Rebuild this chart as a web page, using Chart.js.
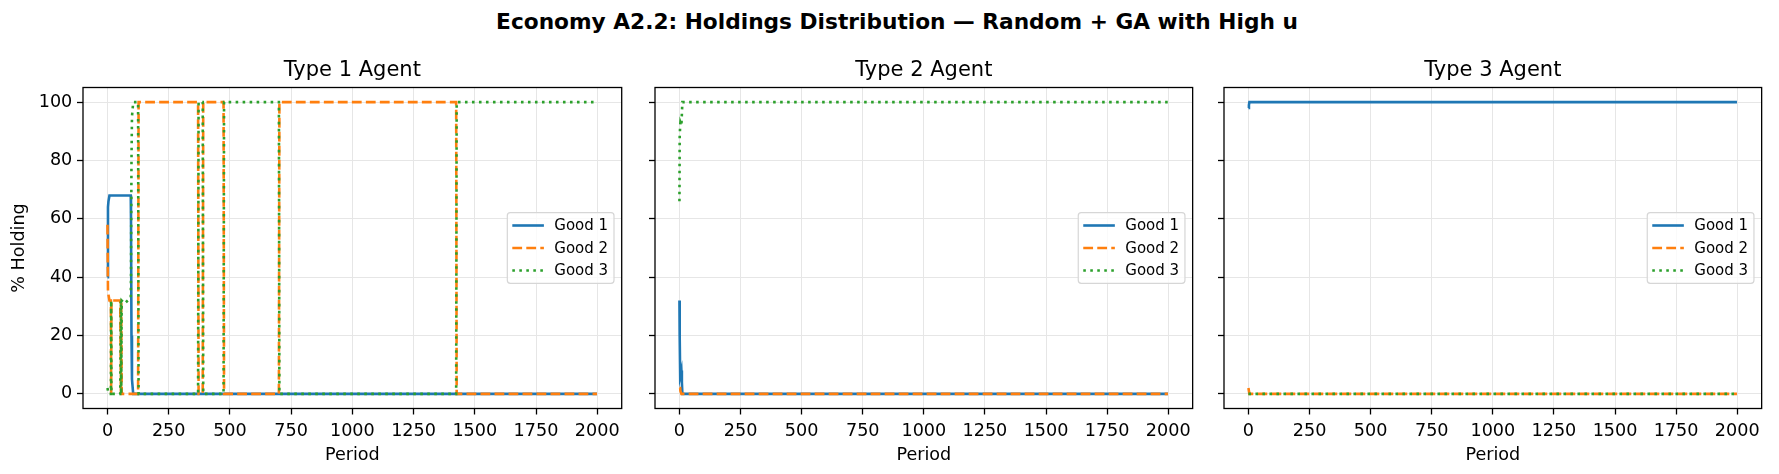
<!DOCTYPE html>
<html lang="en">
<head>
<meta charset="UTF-8">
<title>Economy A2.2: Holdings Distribution</title>
<script src="https://cdn.jsdelivr.net/npm/chart.js"></script>
<style>
    html, body { margin: 0; padding: 0; background: #fff; }
    #fig { position: relative; width: 1779px; height: 474px; overflow: hidden; background: #fff; font-family: "DejaVu Sans", sans-serif; }
    #suptitle { position: absolute; left: 0; top: 0; width: 1794px; height: 43px; line-height: 43px; text-align: center; font-weight: bold; font-size: 21.7px; color: #000; }
    .painel { position: absolute; top: 0; height: 474px; }
</style>
</head>
<body>
<div id="fig">
    <div id="suptitle">Economy A2.2: Holdings Distribution — Random + GA with High u</div>
    <canvas id="type1Chart" class="painel" width="626" height="474" style="left:0px;width:626px"></canvas>
    <canvas id="type2Chart" class="painel" width="567" height="474" style="left:630px;width:567px"></canvas>
    <canvas id="type3Chart" class="painel" width="567" height="474" style="left:1199px;width:567px"></canvas>
</div>

<script>
    // eixos
    const goods = ['Good 1', 'Good 2', 'Good 3'];
    const titulos = ['Type 1 Agent', 'Type 2 Agent', 'Type 3 Agent'];
    const xTicks = [0, 250, 500, 750, 1000, 1250, 1500, 1750, 2000];
    const yTicks = [0, 20, 40, 60, 80, 100];

    // Type 1 agent (% holding each good)
    const type1Period = [0, 2, 4, 8, 14, 15, 16, 52, 55, 56, 58, 70, 95, 96, 98, 100, 105, 125, 127, 370, 372, 389, 391, 474, 476, 700, 702, 1424, 1426, 1999];
    const type1Good1 = [40, 64, 66, 68, 68, 68, 68, 68, 68, 68, 68, 68, 68, 60, 20, 5, 0, 0, 0, 0, 0, 0, 0, 0, 0, 0, 0, 0, 0, 0];
    const type1Good2 = [58, 35, 34, 32, 32, 0, 32, 32, 0, 32, 0, 0, 0, 0, 0, 0, 0, 0, 100, 100, 0, 0, 100, 100, 0, 0, 100, 100, 0, 0];
    const type1Good3 = [2, 1, 0, 0, 0, 32, 0, 0, 32, 0, 32, 31, 33, 40, 80, 95, 100, 100, 0, 0, 100, 100, 0, 0, 100, 100, 0, 0, 100, 100];

    // Type 2 agent
    const type2Period = [0, 1, 3, 4, 8, 10, 12, 15, 1999];
    const type2Good1 = [32, 20, 6, 6, 8, 4, 0, 0, 0];
    const type2Good2 = [2, 2, 2, 1, 0, 0, 0, 0, 0];
    const type2Good3 = [66, 88, 92, 93, 92, 96, 100, 100, 100];

    // Type 3 agent
    const type3Period = [0, 2, 4, 1999];
    const type3Good1 = [98, 99, 100, 100];
    const type3Good2 = [2, 1, 0, 0];
    const type3Good3 = [0, 0, 0, 0];

    const cores = ['#1f77b4', '#ff7f0e', '#2ca02c'];
    const tracos = [[], [9.8, 4.2], [2.6, 4.4]];

    Chart.defaults.font.family = "'DejaVu Sans', sans-serif";
    Chart.defaults.color = '#000';

    function pontos(periodos, valores) {
        return periodos.map((p, i) => ({ x: p, y: valores[i] }));
    }

    // moldura completa dos eixos (como no matplotlib)
    const moldura = {
        id: 'moldura',
        afterDatasetsDraw(chart) {
            const { ctx, chartArea } = chart;
            ctx.save();
            ctx.strokeStyle = '#000';
            ctx.lineWidth = 1.3;
            ctx.strokeRect(chartArea.left, chartArea.top, chartArea.right - chartArea.left, chartArea.bottom - chartArea.top);
            ctx.restore();
        }
    };

    // legenda dentro do gráfico, centro à direita
    const legendaInterna = {
        id: 'legendaInterna',
        afterDraw(chart) {
            const { ctx, chartArea } = chart;
            const w = 106.7, h = 70.7;
            const x0 = chartArea.right - 7.7 - w;
            const yc = (chartArea.top + chartArea.bottom) / 2;
            const y0 = yc - h / 2;
            ctx.save();
            ctx.beginPath();
            ctx.roundRect(x0, y0, w, h, 3);
            ctx.fillStyle = 'rgba(255,255,255,0.8)';
            ctx.fill();
            ctx.strokeStyle = '#d6d6d6';
            ctx.lineWidth = 1.2;
            ctx.stroke();
            chart.data.datasets.forEach((ds, i) => {
                const y = yc + (i - 1) * 22.5;
                ctx.beginPath();
                ctx.setLineDash(ds.borderDash || []);
                ctx.strokeStyle = ds.borderColor;
                ctx.lineWidth = ds.borderWidth;
                ctx.moveTo(x0 + 5, y);
                ctx.lineTo(x0 + 36.6, y);
                ctx.stroke();
                ctx.setLineDash([]);
                ctx.fillStyle = '#000';
                ctx.font = "15px 'DejaVu Sans'";
                ctx.textBaseline = 'middle';
                ctx.textAlign = 'left';
                ctx.fillText(ds.label, x0 + 47, y + 1);
            });
            ctx.restore();
        }
    };

    function criarPainel(canvasId, titulo, periodos, series, primeiro) {
        return new Chart(document.getElementById(canvasId), {
            type: 'line',
            data: {
                datasets: series.map((valores, i) => ({
                    label: goods[i],
                    data: pontos(periodos, valores),
                    borderColor: cores[i],
                    backgroundColor: cores[i],
                    borderDash: tracos[i],
                    borderWidth: 2.6,
                    pointRadius: 0,
                    tension: 0,
                    fill: false,
                    order: 3 - i
                }))
            },
            options: {
                responsive: false,
                animation: false,
                layout: { padding: { top: 57.8, right: 1, bottom: 0, left: 0 } },
                plugins: {
                    legend: { display: false },
                    tooltip: { enabled: false },
                    title: {
                        display: true,
                        fullSize: false,
                        text: titulo,
                        color: '#000',
                        font: { size: 21, weight: 'normal' },
                        padding: { top: 0, bottom: 4.5 }
                    }
                },
                scales: {
                    x: {
                        type: 'linear',
                        min: -100,
                        max: 2100,
                        afterBuildTicks: s => { s.ticks = xTicks.map(v => ({ value: v })); },
                        afterFit: s => { s.height = 65.5; },
                        border: { display: false },
                        grid: { color: '#e6e6e6', lineWidth: 1, tickLength: 6, tickColor: '#000', tickWidth: 1.3 },
                        ticks: { font: { size: 17.6 }, color: '#000', padding: 6.2, maxRotation: 0, autoSkip: false, callback: v => String(v) },
                        title: { display: true, text: 'Period', color: '#000', font: { size: 17.6 }, padding: { top: 0, bottom: 8.5 } }
                    },
                    y: {
                        type: 'linear',
                        min: -5,
                        max: 105,
                        afterBuildTicks: s => { s.ticks = yTicks.map(v => ({ value: v })); },
                        afterFit: s => { s.width = primeiro ? 83 : 25; },
                        border: { display: false },
                        grid: { color: '#e6e6e6', lineWidth: 1, tickLength: 6, tickColor: '#000', tickWidth: 1.3 },
                        ticks: { display: primeiro, font: { size: 17.6 }, color: '#000', padding: 4.7, callback: v => String(v) },
                        title: { display: primeiro, text: '% Holding', color: '#000', font: { size: 17.6 }, padding: { top: 8.7, bottom: 0 } }
                    }
                }
            },
            plugins: [moldura, legendaInterna]
        });
    }

    criarPainel('type1Chart', titulos[0], type1Period, [type1Good1, type1Good2, type1Good3], true);
    criarPainel('type2Chart', titulos[1], type2Period, [type2Good1, type2Good2, type2Good3], false);
    criarPainel('type3Chart', titulos[2], type3Period, [type3Good1, type3Good2, type3Good3], false);
</script>
</body>
</html>
